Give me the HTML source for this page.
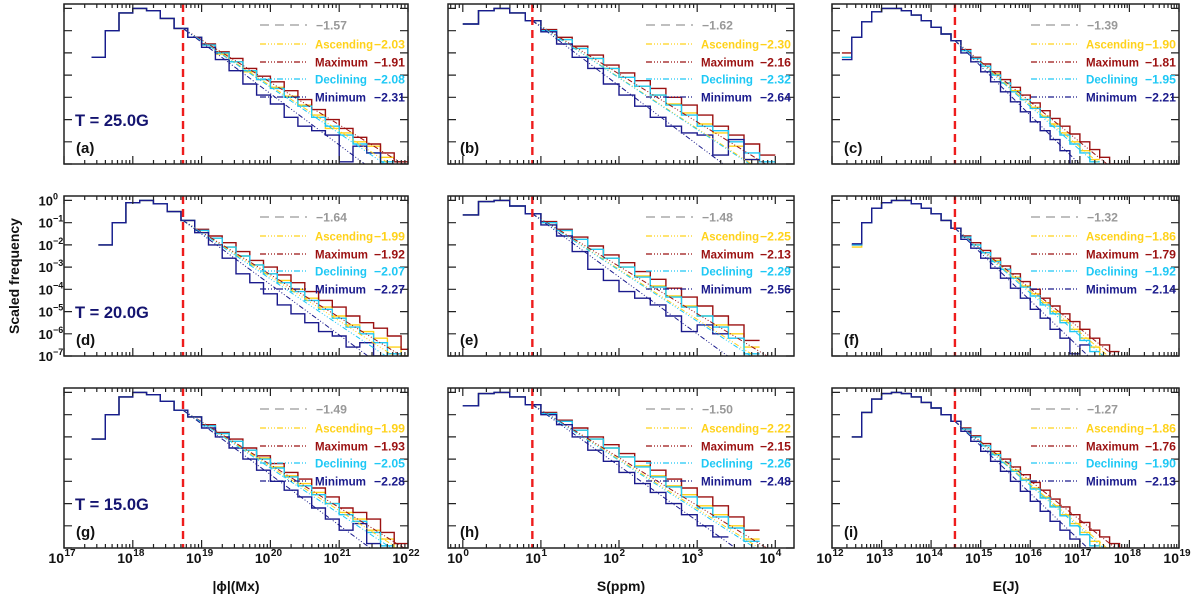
<!DOCTYPE html>
<html><head><meta charset="utf-8">
<style>
html,body{margin:0;padding:0;background:#fff;}
svg{display:block;font-family:"Liberation Sans",Arial,sans-serif;font-weight:bold;}
</style></head>
<body>
<svg id="fig" width="1200" height="602" viewBox="0 0 1200 602" xmlns="http://www.w3.org/2000/svg">
<g id="layer"></g>
</svg>
<script>
// ---------- data (log10 scaled frequency per bin) ----------
const A_asc=[-2.2,-1.0,-0.2,0,-0.1,-0.45,-0.9,-1.3,-1.65,-2.05,-2.4,-2.85,-3.2,-3.55,-3.95,-4.35,-4.8,-5.4,-5.6,-6.0,-6.2,-6.7,null];
const A_max=[-2.2,-1.0,-0.2,0,-0.1,-0.45,-0.9,-1.3,-1.6,-1.95,-2.25,-2.7,-3.05,-3.3,-3.7,-4.1,-4.55,-5.0,-5.4,-5.8,-6.1,-6.5,-6.9];
const A_dec=[-2.2,-1.0,-0.2,0,-0.1,-0.45,-0.9,-1.3,-1.65,-2.0,-2.4,-2.8,-3.2,-3.6,-4.0,-4.4,-4.9,-5.3,-5.7,-6.1,-6.5,-6.9,null];
const A_min=[-2.2,-1.0,-0.2,0,-0.1,-0.45,-0.9,-1.3,-1.75,-2.3,-2.8,-3.4,-3.9,-4.3,-4.9,-5.3,-5.5,-5.7,-6.9,-6.2,-6.5,-7.0,null];
const D_asc=[-2.0,-1.0,-0.1,0,-0.15,-0.5,-0.9,-1.35,-1.7,-2.1,-2.5,-2.9,-3.3,-3.6,-4.0,-4.4,-4.8,-5.2,-5.6,-5.9,-6.2,-6.6,-7.0];
const D_max=[-2.0,-1.0,-0.1,0,-0.15,-0.5,-0.9,-1.3,-1.6,-1.9,-2.3,-2.7,-3.0,-3.35,-3.7,-4.1,-4.5,-4.8,-5.2,-5.5,-5.75,-6.1,-6.7];
const D_dec=[-2.0,-1.0,-0.1,0,-0.15,-0.5,-0.9,-1.35,-1.7,-2.1,-2.5,-2.9,-3.3,-3.7,-4.1,-4.5,-4.9,-5.3,-5.7,-6.0,-6.4,-6.9,null];
const D_min=[-2.0,-1.0,-0.1,0,-0.15,-0.5,-0.9,-1.45,-2.0,-2.6,-3.3,-3.7,-4.2,-4.7,-5.1,-5.5,-5.9,-6.1,-6.6,-6.4,-7.0,null,null];
const G_asc=[-2.1,-1.0,-0.2,0,-0.1,-0.4,-0.8,-1.1,-1.5,-1.85,-2.2,-2.6,-2.95,-3.35,-3.75,-4.1,-4.5,-5.0,-5.4,-5.7,-6.2,-6.6,-7.0];
const G_max=[-2.1,-1.0,-0.2,0,-0.1,-0.4,-0.8,-1.1,-1.45,-1.8,-2.1,-2.5,-2.85,-3.2,-3.6,-3.9,-4.3,-4.7,-5.2,-5.4,-5.7,-6.3,-6.8];
const G_dec=[-2.1,-1.0,-0.2,0,-0.1,-0.4,-0.8,-1.1,-1.5,-1.85,-2.2,-2.6,-3.0,-3.4,-3.8,-4.2,-4.6,-5.0,-5.5,-5.8,-6.3,-6.9,null];
const G_min=[-2.1,-1.0,-0.2,0,-0.1,-0.4,-0.8,-1.1,-1.6,-2.0,-2.5,-3.0,-3.5,-4.0,-4.4,-4.7,-5.2,-5.7,-6.2,-5.9,-6.8,null,null];
const B_asc=[-0.7,-0.1,0,-0.2,-0.55,-1.0,-1.4,-1.8,-2.25,-2.7,-3.1,-3.5,-3.9,-4.3,-4.7,-5.2,-5.6,-6.2,-6.8,null];
const B_max=[-0.7,-0.1,0,-0.2,-0.55,-0.95,-1.3,-1.7,-2.1,-2.55,-2.9,-3.25,-3.6,-4.0,-4.35,-4.8,-5.3,-5.7,-6.1,-6.6];
const B_dec=[-0.7,-0.1,0,-0.2,-0.55,-1.0,-1.4,-1.8,-2.25,-2.7,-3.1,-3.5,-3.9,-4.35,-4.8,-5.3,-5.5,-6.0,-6.5,-6.9];
const B_min=[-0.7,-0.1,0,-0.2,-0.55,-1.05,-1.6,-2.2,-2.7,-3.4,-3.9,-4.4,-4.9,-5.3,-5.6,-5.7,-6.6,-5.9,-6.8,null];
const E_asc=[-0.65,-0.05,0,-0.25,-0.6,-1.0,-1.35,-1.75,-2.2,-2.6,-3.0,-3.4,-3.85,-4.3,-4.75,-5.2,-5.6,-6.0,-6.6];
const E_max=[-0.65,-0.05,0,-0.25,-0.6,-0.95,-1.3,-1.65,-2.05,-2.45,-2.8,-3.2,-3.55,-3.95,-4.35,-4.75,-5.2,-5.6,-6.3];
const E_dec=[-0.65,-0.05,0,-0.25,-0.6,-1.0,-1.35,-1.75,-2.2,-2.6,-3.0,-3.45,-3.9,-4.35,-4.8,-5.2,-5.7,-6.2,-6.9];
const E_min=[-0.65,-0.05,0,-0.25,-0.6,-1.1,-1.6,-2.3,-3.1,-3.6,-4.1,-4.4,-4.7,-5.2,-5.9,-5.6,-6.0,null,null];
const H_asc=[-0.6,-0.05,0,-0.2,-0.55,-0.95,-1.3,-1.7,-2.1,-2.5,-2.9,-3.3,-3.75,-4.2,-4.6,-5.1,-5.5,-6.0,-6.6];
const H_max=[-0.6,-0.05,0,-0.2,-0.55,-0.9,-1.25,-1.6,-2.0,-2.35,-2.75,-3.1,-3.5,-3.9,-4.3,-4.7,-5.1,-5.6,-6.2];
const H_dec=[-0.6,-0.05,0,-0.2,-0.55,-0.95,-1.3,-1.7,-2.1,-2.5,-2.9,-3.35,-3.8,-4.25,-4.7,-5.2,-5.6,-6.1,-6.7];
const H_min=[-0.6,-0.05,0,-0.2,-0.55,-1.0,-1.45,-2.0,-2.6,-3.1,-3.6,-4.1,-4.5,-5.0,-5.5,-6.0,-6.5,null,null];
const C_asc=[-2.2,-1.3,-0.6,-0.15,0,0,-0.1,-0.3,-0.55,-0.85,-1.15,-1.45,-1.9,-2.25,-2.6,-2.95,-3.35,-3.7,-4.1,-4.45,-4.85,-5.2,-5.6,-6.0,-6.4,-6.8,null,null,null];
const C_max=[-2.0,-1.3,-0.6,-0.15,0,0,-0.1,-0.3,-0.55,-0.85,-1.15,-1.45,-1.85,-2.2,-2.5,-2.85,-3.2,-3.55,-3.9,-4.25,-4.6,-4.95,-5.3,-5.65,-6.0,-6.35,-6.7,-7.0,null];
const C_dec=[-2.2,-1.3,-0.6,-0.15,0,0,-0.1,-0.3,-0.55,-0.85,-1.15,-1.45,-1.9,-2.25,-2.6,-3.0,-3.35,-3.75,-4.1,-4.5,-4.9,-5.3,-5.7,-6.1,-6.5,-6.9,null,null,null];
const C_min=[-2.3,-1.3,-0.6,-0.15,0,0,-0.1,-0.3,-0.55,-0.85,-1.15,-1.45,-2.0,-2.4,-2.85,-3.3,-3.75,-4.2,-4.65,-5.1,-5.5,-5.9,-6.4,-7.0,null,null,null,null,null];
const F_asc=[-2.1,-1.0,-0.35,-0.1,0,0,-0.15,-0.35,-0.6,-0.9,-1.25,-1.65,-2.0,-2.35,-2.7,-3.1,-3.45,-3.85,-4.2,-4.6,-5.0,-5.4,-5.8,-6.2,-6.6,-7.0,null,null];
const F_max=[-2.0,-1.0,-0.35,-0.1,0,0,-0.15,-0.35,-0.6,-0.9,-1.25,-1.6,-1.9,-2.25,-2.6,-2.95,-3.3,-3.65,-4.0,-4.4,-4.75,-5.1,-5.45,-5.8,-6.2,-6.5,-6.8,null];
const F_dec=[-2.0,-1.0,-0.35,-0.1,0,0,-0.15,-0.35,-0.6,-0.9,-1.25,-1.65,-2.0,-2.35,-2.75,-3.1,-3.5,-3.9,-4.3,-4.7,-5.1,-5.5,-5.9,-6.3,-6.8,null,null,null];
const F_min=[-1.95,-1.0,-0.35,-0.1,0,0,-0.15,-0.35,-0.6,-0.9,-1.25,-1.75,-2.15,-2.6,-3.05,-3.5,-3.95,-4.4,-4.9,-5.3,-5.8,-6.2,-6.9,-6.5,null,null,null,null];
const I_asc=[-2.0,-0.9,-0.3,-0.05,0,-0.05,-0.2,-0.45,-0.7,-1.0,-1.3,-1.65,-2.0,-2.4,-2.75,-3.15,-3.5,-3.9,-4.3,-4.7,-5.1,-5.5,-5.9,-6.3,-6.7,-7.0,null,null];
const I_max=[-2.0,-0.9,-0.3,-0.05,0,-0.05,-0.2,-0.45,-0.7,-1.0,-1.3,-1.6,-1.95,-2.3,-2.65,-3.0,-3.35,-3.7,-4.05,-4.4,-4.8,-5.15,-5.5,-5.85,-6.2,-6.5,-6.8,-7.0];
const I_dec=[-2.0,-0.9,-0.3,-0.05,0,-0.05,-0.2,-0.45,-0.7,-1.0,-1.3,-1.65,-2.0,-2.4,-2.8,-3.15,-3.55,-3.95,-4.35,-4.75,-5.15,-5.55,-6.0,-6.4,-6.9,null,null,null];
const I_min=[-2.0,-0.9,-0.3,-0.05,0,-0.05,-0.2,-0.45,-0.7,-1.0,-1.3,-1.75,-2.2,-2.65,-3.1,-3.55,-4.0,-4.45,-4.9,-5.35,-5.8,-6.2,-6.6,-7.0,null,null,null,null];
// fitted slopes: [all, ascending, maximum, declining, minimum]
const SL_A=[-1.57,-2.03,-1.91,-2.08,-2.31];
const SL_B=[-1.62,-2.30,-2.16,-2.32,-2.64];
const SL_C=[-1.39,-1.90,-1.81,-1.95,-2.21];
const SL_D=[-1.64,-1.99,-1.92,-2.07,-2.27];
const SL_E=[-1.48,-2.25,-2.13,-2.29,-2.56];
const SL_F=[-1.32,-1.86,-1.79,-1.92,-2.14];
const SL_G=[-1.49,-1.99,-1.93,-2.05,-2.28];
const SL_H=[-1.50,-2.22,-2.15,-2.26,-2.48];
const SL_I=[-1.27,-1.86,-1.76,-1.90,-2.13];
const binStart=[17.4,17.5,17.4, 0.0,0.0,0.0, 12.2,12.4,12.4];
const binWidth=[0.2,0.2,0.2];
const xTicksLeft=[17,18,19,20,21,22];
const xTicksMid=[0,1,2,3,4];
const xTicksRight=[12,13,14,15,16,17,18,19];
const yTicks=[0,-1,-2,-3,-4,-5,-6,-7];
const thresholds=[18.73,0.89,14.48];
const tLabels=["T = 25.0G","T = 20.0G","T = 15.0G"];

// ---------- layout ----------
const NS="http://www.w3.org/2000/svg";
const layer=document.getElementById('layer');
const cols=[{x0:64,x1:408,lo:17,hi:22},{x0:448,x1:794,lo:-0.19,hi:4.24},{x0:832,x1:1179,lo:12,hi:19}];
const rowTops=[4,196,388];
const PH=160, YLO=-7, YHI=0.2;
const colors=["#999999","#FFD21A","#9B1111","#1EC8F5","#1A1A8C"];
const names=["","Ascending","Maximum","Declining","Minimum"];
const nameLen=[0,58,53,52,51];
const keys=["all","ascending","maximum","declining","minimum"];
function el(tag,attrs,parent){const e=document.createElementNS(NS,tag);for(const k in attrs)e.setAttribute(k,attrs[k]);(parent||layer).appendChild(e);return e;}
function fmt(v){return (v<0?"\u2212":"")+Math.abs(v).toFixed(2);}

const panels=[
 {id:'a',c:0,r:0,s:[null,A_asc,A_max,A_dec,A_min],sl:SL_A,b:0},
 {id:'b',c:1,r:0,s:[null,B_asc,B_max,B_dec,B_min],sl:SL_B,b:3},
 {id:'c',c:2,r:0,s:[null,C_asc,C_max,C_dec,C_min],sl:SL_C,b:6},
 {id:'d',c:0,r:1,s:[null,D_asc,D_max,D_dec,D_min],sl:SL_D,b:1},
 {id:'e',c:1,r:1,s:[null,E_asc,E_max,E_dec,E_min],sl:SL_E,b:4},
 {id:'f',c:2,r:1,s:[null,F_asc,F_max,F_dec,F_min],sl:SL_F,b:7},
 {id:'g',c:0,r:2,s:[null,G_asc,G_max,G_dec,G_min],sl:SL_G,b:2},
 {id:'h',c:1,r:2,s:[null,H_asc,H_max,H_dec,H_min],sl:SL_H,b:5},
 {id:'i',c:2,r:2,s:[null,I_asc,I_max,I_dec,I_min],sl:SL_I,b:8}
];
const xTickSets=[xTicksLeft,xTicksMid,xTicksRight];

panels.forEach(p=>{
  const C=cols[p.c], top=rowTops[p.r], bot=top+PH;
  const X=v=>C.x0+(v-C.lo)/(C.hi-C.lo)*(C.x1-C.x0);
  const Y=v=>bot-(v-YLO)/(YHI-YLO)*PH;
  const g=el('g',{});
  
  
  const cid='clip-'+p.id;
  const cp=el('clipPath',{id:cid},g);
  el('rect',{x:C.x0,y:top,width:C.x1-C.x0,height:PH},cp);
  const w=binWidth[p.c], st=binStart[p.b];
  const red=thresholds[p.c];
  for(let k=1;k<=4;k++){
    const arr=p.s[k]; let d="";
    for(let i=0;i<arr.length;i++){
      if(arr[i]===null)break;
      const xa=X(st+i*w), xb=X(st+(i+1)*w), y=Y(Math.max(arr[i],-7.6));
      d+=(i===0?"M":"L")+xa.toFixed(1)+","+y.toFixed(1)+"L"+xb.toFixed(1)+","+y.toFixed(1);
    }
    const h=el('path',{d:d,fill:'none',stroke:colors[k],'stroke-width':1.4,'clip-path':'url(#'+cid+')'},g);
    
    
  }
  for(let k=1;k<=4;k++){
    const arr=p.s[k];
    const idx=Math.floor((red-st)/w);
    const y0=arr[idx];
    const xEnd=red+(-7.3-y0)/p.sl[k];
    const f=el('line',{x1:X(red),y1:Y(y0),x2:X(xEnd),y2:Y(-7.3),stroke:colors[k],'stroke-width':1,'stroke-dasharray':'5,2,1,2,1,2,1,2','clip-path':'url(#'+cid+')'},g);
    
    
  }
  const rl=el('line',{x1:X(red),y1:top,x2:X(red),y2:bot,stroke:'#EE1C1C','stroke-width':2.4,'stroke-dasharray':'8,5'},g);
  
  
  const fr=el('rect',{x:C.x0,y:top,width:C.x1-C.x0,height:PH,fill:'none',stroke:'#222','stroke-width':1.5},g);
  
  
  let td="";
  for(let dcd=Math.floor(C.lo);dcd<=Math.ceil(C.hi);dcd++){
    for(let m=1;m<=9;m++){
      const v=dcd+Math.log10(m); if(v<C.lo||v>C.hi)continue;
      const L=m===1?8:4, x=X(v).toFixed(1);
      td+="M"+x+","+bot+"v"+(-L)+"M"+x+","+top+"v"+L;
    }
  }
  yTicks.forEach(t=>{const y=Y(t).toFixed(1);td+="M"+C.x0+","+y+"h8M"+C.x1+","+y+"h-8";});
  const tk=el('path',{d:td,stroke:'#222','stroke-width':1.2,fill:'none'},g);
  
  
  if(p.id==='d'){
    yTicks.forEach(t=>{
      const y=Y(t);
      const a=el('text',{x:53,y:y+5,'text-anchor':'end','font-size':13,fill:'#111'},g);a.textContent="10";
      
      
      const b=el('text',{x:53,y:y-1,'font-size':9,fill:'#111'},g);b.textContent=(t<0?"\u2212":"")+Math.abs(t);
      
      
    });
  }
  if(p.r===2){
    xTickSets[p.c].forEach(t=>{
      const x=X(t);
      const a=el('text',{x:x,y:563,'text-anchor':'end','font-size':14,fill:'#111'},g);a.textContent="10";
      
      
      const b=el('text',{x:x+0.5,y:556,'font-size':10,fill:'#111'},g);b.textContent=String(t);
      
      
    });
  }
  const offs=[21,40,58,75,93];
  for(let k=0;k<5;k++){
    const yy=top+offs[k];
    const ln=el('line',{x1:C.x1-148,y1:yy,x2:C.x1-101,y2:yy,stroke:colors[k],'stroke-width':1.2,'stroke-dasharray':k===0?'9,6':'6,2,1,2,1,2,1,2'},g);
    
    
    if(k===0){
      const t=el('text',{x:C.x1-92,y:yy+4.5,'font-size':12,fill:colors[0],textLength:31,lengthAdjust:'spacingAndGlyphs'},g);t.textContent=fmt(p.sl[0]);
      
      
    } else {
      const t=el('text',{x:C.x1-93,y:yy+4.5,'font-size':12,fill:colors[k],textLength:nameLen[k],lengthAdjust:'spacingAndGlyphs'},g);t.textContent=names[k];
      
      
      const v=el('text',{x:C.x1-34,y:yy+4.5,'font-size':12,fill:colors[k],textLength:31,lengthAdjust:'spacingAndGlyphs'},g);v.textContent=fmt(p.sl[k]);
      
      
    }
  }
  const pl=el('text',{x:C.x0+12,y:top+149,'font-size':15,fill:'#111'},g);pl.textContent="("+p.id+")";
  
  
  if(p.c===0){
    const tl=el('text',{x:C.x0+11,y:top+122,'font-size':16.5,fill:'#141470'},g);tl.textContent=tLabels[p.r];
    
    
  }
});
const yt=el('text',{x:0,y:0,transform:'translate(19,276) rotate(-90)','text-anchor':'middle','font-size':14,fill:'#111'});
yt.textContent="Scaled frequency";


[["|\u03D5|(Mx)",236],["S(ppm)",621],["E(J)",1006]].forEach(([s,x],i)=>{
  const t=el('text',{x:x,y:591,'text-anchor':'middle','font-size':14,fill:'#111'});t.textContent=s;
  
  
});
</script>
</body></html>
